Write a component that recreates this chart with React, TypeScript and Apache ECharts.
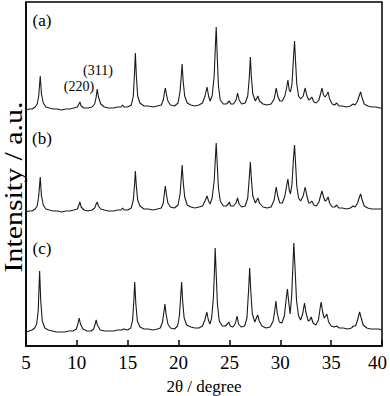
import React, { useEffect, useRef } from "react";
import * as echarts from "echarts";

// 2θ (degree) vs intensity (arbitrary units, traces already stacked)
const traceA: [number, number][] = [
  [5.0,236],[5.3,237],[5.6,237],[5.9,239],[6.1,242],[6.25,250],[6.4,270],[6.52,252],[6.7,243],[6.95,239],[7.3,238],[7.7,237],[8.1,237],[8.5,236],[8.9,237],[9.3,237],[9.7,238],[10.05,239],[10.2,242],[10.3,244],[10.42,240],[10.7,238],[11.1,238],[11.5,239],[11.75,242],[11.9,249],[12.0,257],[12.12,249],[12.35,242],[12.7,239],[13.1,238],[13.6,238],[14.0,239],[14.35,239],[14.5,241],[14.65,239],[15.0,239],[15.35,241],[15.55,250],[15.68,275],[15.75,293],[15.85,270],[15.98,250],[16.2,243],[16.6,240],[17.0,240],[17.5,239],[17.9,240],[18.3,241],[18.5,246],[18.62,254],[18.7,258],[18.8,252],[18.95,245],[19.2,241],[19.6,240],[19.95,243],[20.15,255],[20.28,272],[20.35,282],[20.45,265],[20.6,250],[20.85,243],[21.2,241],[21.6,240],[22.0,241],[22.35,243],[22.6,250],[22.8,259],[22.95,250],[23.1,245],[23.3,250],[23.5,270],[23.62,300],[23.7,319],[23.8,290],[23.92,260],[24.1,246],[24.4,242],[24.7,242],[24.9,244],[25.0,245],[25.12,242],[25.4,242],[25.65,246],[25.8,253],[25.95,246],[26.2,242],[26.55,243],[26.8,250],[26.95,268],[27.06,289],[27.15,270],[27.3,252],[27.55,245],[27.7,248],[27.8,250],[27.95,245],[28.3,242],[28.7,241],[29.1,242],[29.4,247],[29.6,258],[29.75,250],[29.95,245],[30.2,245],[30.45,250],[30.62,258],[30.75,266],[30.88,256],[31.0,254],[31.15,262],[31.28,285],[31.4,305],[31.5,285],[31.62,262],[31.8,250],[32.0,247],[32.25,250],[32.45,258],[32.62,250],[32.8,246],[32.95,247],[33.1,249],[33.3,244],[33.55,243],[33.8,246],[33.98,253],[34.1,258],[34.25,251],[34.4,249],[34.55,251],[34.7,254],[34.85,247],[35.1,242],[35.35,241],[35.55,243],[35.75,240],[36.1,240],[36.5,239],[36.9,240],[37.15,242],[37.35,241],[37.6,245],[37.78,251],[37.9,254],[38.02,249],[38.25,242],[38.6,240],[39.0,239],[39.4,239],[39.8,238],[40.0,238]
];

const traceB: [number, number][] = [
  [5.0,134],[5.3,135],[5.6,135],[5.9,137],[6.1,140],[6.25,150],[6.4,169],[6.52,150],[6.7,141],[6.95,137],[7.3,136],[7.7,135],[8.1,135],[8.5,134],[8.9,135],[9.3,135],[9.7,136],[10.05,137],[10.2,141],[10.3,144],[10.42,139],[10.7,136],[11.1,135],[11.5,136],[11.75,138],[11.9,142],[12.0,144],[12.12,140],[12.35,137],[12.7,136],[13.1,135],[13.6,135],[14.0,136],[14.35,136],[14.5,138],[14.65,136],[15.0,136],[15.35,138],[15.55,146],[15.68,162],[15.75,175],[15.85,160],[15.98,146],[16.2,140],[16.6,137],[17.0,137],[17.5,136],[17.9,137],[18.3,138],[18.5,143],[18.62,154],[18.7,160],[18.8,152],[18.95,143],[19.2,139],[19.6,138],[19.95,141],[20.15,152],[20.28,170],[20.35,181],[20.45,165],[20.6,149],[20.85,141],[21.2,139],[21.6,138],[22.0,139],[22.35,140],[22.6,145],[22.8,150],[22.95,145],[23.1,142],[23.3,148],[23.5,165],[23.62,188],[23.7,203],[23.8,182],[23.92,158],[24.1,145],[24.4,140],[24.7,140],[24.9,142],[25.0,144],[25.12,140],[25.4,140],[25.65,143],[25.8,148],[25.95,142],[26.2,139],[26.55,140],[26.8,148],[26.95,168],[27.06,184],[27.15,168],[27.3,150],[27.55,143],[27.7,146],[27.8,148],[27.95,143],[28.3,139],[28.7,138],[29.1,139],[29.4,146],[29.6,159],[29.75,150],[29.95,143],[30.2,143],[30.45,150],[30.62,160],[30.75,167],[30.88,156],[31.0,152],[31.15,162],[31.28,185],[31.4,201],[31.5,183],[31.62,160],[31.8,148],[32.0,145],[32.25,150],[32.45,159],[32.62,150],[32.8,143],[32.95,143],[33.1,145],[33.3,141],[33.55,140],[33.8,144],[33.98,151],[34.1,155],[34.25,149],[34.4,145],[34.55,146],[34.7,149],[34.85,143],[35.1,139],[35.35,139],[35.55,141],[35.75,138],[36.1,138],[36.5,137],[36.9,138],[37.15,140],[37.35,139],[37.6,143],[37.78,149],[37.9,152],[38.02,147],[38.25,140],[38.6,138],[39.0,137],[39.4,137],[39.8,137],[40.0,137]
];

const traceC: [number, number][] = [
  [5.0,14],[5.3,15],[5.6,16],[5.85,18],[6.05,22],[6.2,35],[6.34,75],[6.45,45],[6.6,25],[6.85,18],[7.2,16],[7.6,15],[8.0,14],[8.4,14],[8.8,14],[9.2,15],[9.6,15],[9.95,17],[10.1,22],[10.23,28],[10.35,22],[10.6,17],[11.0,15],[11.4,15],[11.65,17],[11.8,22],[11.9,26],[12.02,21],[12.3,16],[12.7,15],[13.1,15],[13.6,15],[14.0,16],[14.4,16],[14.6,17],[15.0,16],[15.3,18],[15.48,26],[15.6,45],[15.69,64],[15.8,42],[15.95,25],[16.2,19],[16.6,17],[17.0,17],[17.5,16],[17.9,17],[18.2,18],[18.42,24],[18.56,34],[18.66,42],[18.77,32],[18.95,22],[19.2,18],[19.6,17],[19.9,20],[20.08,30],[20.2,48],[20.3,64],[20.4,45],[20.55,28],[20.8,21],[21.2,19],[21.6,18],[22.0,18],[22.35,20],[22.58,26],[22.78,34],[22.93,26],[23.08,22],[23.25,28],[23.42,48],[23.53,75],[23.6,98],[23.7,72],[23.82,42],[24.0,25],[24.3,20],[24.6,20],[24.8,22],[24.93,24],[25.08,20],[25.35,19],[25.6,23],[25.75,30],[25.9,22],[26.15,19],[26.5,20],[26.72,28],[26.88,55],[26.99,78],[27.1,55],[27.25,32],[27.5,24],[27.65,28],[27.78,31],[27.93,25],[28.2,20],[28.6,18],[29.0,19],[29.3,25],[29.45,35],[29.57,45],[29.7,33],[29.9,24],[30.15,23],[30.4,30],[30.58,47],[30.7,57],[30.83,44],[30.97,32],[31.12,50],[31.24,80],[31.33,103],[31.45,78],[31.6,45],[31.8,30],[32.0,26],[32.2,32],[32.38,43],[32.53,33],[32.75,25],[32.9,26],[33.04,29],[33.22,23],[33.5,21],[33.75,26],[33.92,38],[34.02,44],[34.16,34],[34.32,28],[34.47,30],[34.58,32],[34.75,24],[35.0,20],[35.3,19],[35.55,20],[35.8,18],[36.2,18],[36.6,17],[37.0,18],[37.2,20],[37.4,20],[37.6,26],[37.72,31],[37.8,34],[37.93,29],[38.15,21],[38.5,18],[38.9,17],[39.3,17],[39.7,17],[40.0,16]
];

const xTicks = { min: 5, max: 40, interval: 5 };
const yRange = { min: 0, max: 344 };
const panelLabels = ["(a)", "(b)", "(c)"];
const peakLabels = ["(220)", "(311)"];
const yTitle = "Intensity / a.u.";
const xTitle = "2θ / degree";

const FONT = "Liberation Serif";

export default function App() {
  const ref = useRef<HTMLDivElement>(null);
  useEffect(() => {
    if (!ref.current) return;
    const chart = echarts.init(ref.current, undefined, { renderer: "svg" });
    const mkSeries = (d: [number, number][], name: string) => ({
      name,
      type: "line",
      data: d,
      showSymbol: false,
      symbol: "none",
      smooth: false,
      lineStyle: { color: "#1a1a1a", width: 1.1 },
      z: 3,
    });
    const panelPos = [
      [42, 20],
      [42, 138],
      [42, 248],
    ];
    const peakPos = [
      [79, 86],
      [98, 70],
    ];
    chart.setOption({
      animation: false,
      backgroundColor: "#fff",
      grid: {
        left: 26,
        right: 8,
        top: 2,
        bottom: 50,
        containLabel: false,
        outerBoundsMode: "none",
        show: true,
        borderColor: "#000",
        borderWidth: 1.5,
        backgroundColor: "transparent",
      },
      xAxis: {
        type: "value",
        min: xTicks.min,
        max: xTicks.max,
        interval: xTicks.interval,
        name: xTitle,
        nameLocation: "middle",
        nameGap: 32,
        nameTextStyle: { fontFamily: FONT, fontSize: 17, color: "#000" },
        axisLine: { show: true, lineStyle: { color: "#000", width: 1.5 } },
        axisTick: { show: true, inside: true, length: 6, lineStyle: { color: "#000", width: 1.5 } },
        axisLabel: {
          fontFamily: FONT,
          fontSize: 19,
          color: "#000",
          margin: 7,
          showMinLabel: true,
          showMaxLabel: true,
          formatter: (v: number) => (v === xTicks.max ? `{r|${v}}` : `${v}`),
          rich: { r: { fontFamily: FONT, fontSize: 19, color: "#000", padding: [0, 9, 0, 0] } },
        },
        splitLine: { show: false },
      },
      yAxis: {
        type: "value",
        min: yRange.min,
        max: yRange.max,
        axisLine: { show: true, lineStyle: { color: "#000", width: 1.5 } },
        axisTick: { show: false },
        axisLabel: { show: false },
        splitLine: { show: false },
      },
      series: [mkSeries(traceA, "a"), mkSeries(traceB, "b"), mkSeries(traceC, "c")],
      graphic: [
        {
          type: "text",
          x: 13,
          y: 187,
          rotation: Math.PI / 2,
          scaleX: 1.15,
          style: { text: yTitle, fontFamily: FONT, fontSize: 26, fill: "#000", textAlign: "center", textVerticalAlign: "middle" },
        },
        ...panelLabels.map((t, i) => ({
          type: "text",
          x: panelPos[i][0],
          y: panelPos[i][1],
          style: { text: t, fontFamily: FONT, fontSize: 17, fill: "#000", textAlign: "center", textVerticalAlign: "middle" },
        })),
        ...peakLabels.map((t, i) => ({
          type: "text",
          x: peakPos[i][0],
          y: peakPos[i][1],
          style: { text: t, fontFamily: FONT, fontSize: 14, fill: "#000", textAlign: "center", textVerticalAlign: "middle" },
        })),
      ],
    });
    return () => chart.dispose();
  }, []);
  return (
    <div
      ref={ref}
      style={{ position: "fixed", left: 0, top: 0, width: 390, height: 396, overflow: "hidden" }}
    />
  );
}
